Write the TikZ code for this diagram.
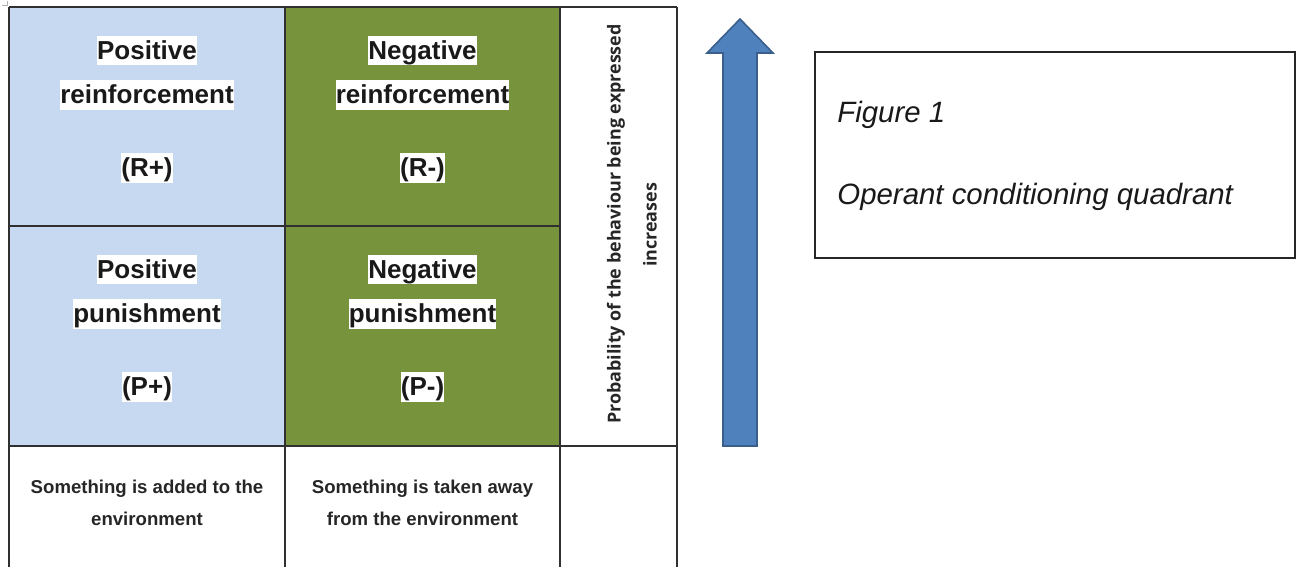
\documentclass[tikz,border=0pt]{standalone}
\usepackage{fontspec}
\setmainfont{Liberation Sans}
\newfontfamily\probfont{Open Sans}
\definecolor{cellblue}{HTML}{C6D9F0}
\definecolor{cellgreen}{HTML}{77933C}
\definecolor{arrowfill}{HTML}{4F81BD}
\definecolor{arrowdraw}{HTML}{3A5F8B}
\definecolor{gridline}{HTML}{303030}
\tikzset{
  grid/.style={draw=gridline, line width=0.7pt},
  title/.style={fill=white, inner sep=0pt, text height=11.8pt, text depth=3pt,
    font=\fontsize{13}{15}\selectfont\bfseries, text=black!90},
  bottomtext/.style={align=center, inner sep=0pt,
    font=\fontsize{9.3}{16}\selectfont\bfseries, text=black!85},
  probtext/.style={rotate=90, inner sep=0pt, font=\probfont\fontsize{8.95}{10}\selectfont\bfseries, text=black!85},
  figtext/.style={anchor=base west, inner sep=0pt, font=\fontsize{14.7}{17}\selectfont\itshape, text=black!90},
  bigarrow/.style={fill=arrowfill, draw=arrowdraw, line width=0.8pt, line join=miter},
  figbox/.style={draw=black!85, line width=0.65pt}
}
\begin{document}
\begin{tikzpicture}[x=0.5pt, y=-0.5pt]
\useasboundingbox (0,0) rectangle (1301,567);
% cell fills
\fill[cellblue] (9,7) rectangle (285,446);
\fill[cellgreen] (285,7) rectangle (560,446);
% grid
\draw[grid] (9,7) -- (677,7);
\draw[grid] (9,226) -- (560,226);
\draw[grid] (9,446) -- (677,446);
\draw[grid] (9,7) -- (9,567);
\draw[grid] (285,7) -- (285,567);
\draw[grid] (560,7) -- (560,567);
\draw[grid] (677,7) -- (677,567);
% tiny corner marker
\draw[gray!60, line width=0.5pt] (2,5.5) -- (7.5,5.5) -- (7.5,1.5);
% top-left cell
\node[title] (pr1) at (147,50.5) {Positive};
\node[title] (pr2) at (147,95) {reinforcement};
\node[title] (pr3) at (147,168) {(R+)};
% top-right cell
\node[title] (nr1) at (422.5,50.5) {Negative};
\node[title] (nr2) at (422.5,95) {reinforcement};
\node[title] (nr3) at (422.5,168) {(R-)};
% bottom-left cell
\node[title] (pp1) at (147,269.5) {Positive};
\node[title] (pp2) at (147,314) {punishment};
\node[title] (pp3) at (147,387) {(P+)};
% bottom-right cell
\node[title] (np1) at (422.5,269.5) {Negative};
\node[title] (np2) at (422.5,314) {punishment};
\node[title] (np3) at (422.5,387) {(P-)};
% bottom row
\node[bottomtext] (add) at (147,503) {Something is added to the\\environment};
\node[bottomtext] (take) at (422.5,503) {Something is taken away\\from the environment};
% rotated text
\node[probtext] (prob1) at (616,224) {Probability of the behaviour being expressed};
\node[probtext] (prob2) at (650,225) {increases};
% arrow
\draw[bigarrow] (723,446) -- (723,53) -- (707,53) -- (740,19) -- (773,53) -- (757,53) -- (757,446) -- cycle;
% figure box
\draw[figbox] (815,52) rectangle (1295,258);
\node[figtext] (fig1) at (837,123) {Figure 1};
\node[figtext] (fig2) at (837,205) {Operant conditioning quadrant};
\end{tikzpicture}
\end{document}
